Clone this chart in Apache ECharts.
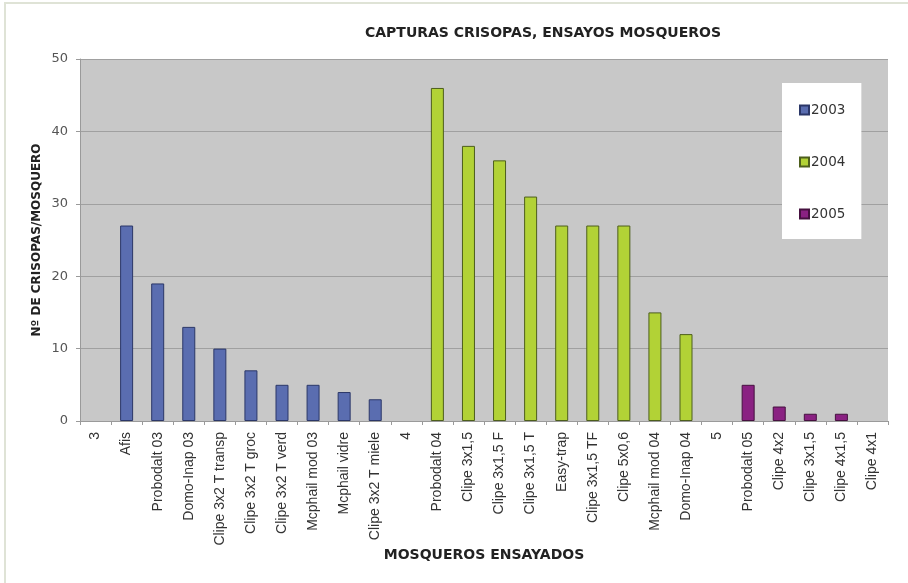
<!DOCTYPE html>
<html>
<head>
<meta charset="utf-8">
<script src="https://cdn.jsdelivr.net/npm/echarts@6/dist/echarts.min.js"></script>
<style>
  html, body { margin: 0; padding: 0; background: #ffffff; }
  #chart { width: 908px; height: 583px; }
</style>
</head>
<body>
<div id="chart"></div>
<script>
// Traps tested per season (spacer categories "3", "4", "5" separate the years)
const categories = [
  '3', 'Afis', 'Probodalt 03', 'Domo-Inap 03', 'Clipe 3x2 T transp', 'Clipe 3x2 T groc',
  'Clipe 3x2 T verd', 'Mcphail mod 03', 'Mcphail vidre', 'Clipe 3x2 T miele',
  '4', 'Probodalt 04', 'Clipe 3x1,5', 'Clipe 3x1,5 F', 'Clipe 3x1,5 T', 'Easy-trap',
  'Clipe 3x1,5 TF', 'Clipe 5x0,6', 'Mcphail mod 04', 'Domo-Inap 04',
  '5', 'Probodalt 05', 'Clipe 4x2', 'Clipe 3x1,5', 'Clipe 4x1,5', 'Clipe 4x1'
];

const captures2003 = [null, 27, 19, 13, 10, 7, 5, 5, 4, 3,
  null, null, null, null, null, null, null, null, null, null,
  null, null, null, null, null, null];
const captures2004 = [null, null, null, null, null, null, null, null, null, null,
  null, 46, 38, 36, 31, 27, 27, 27, 15, 12,
  null, null, null, null, null, null];
const captures2005 = [null, null, null, null, null, null, null, null, null, null,
  null, null, null, null, null, null, null, null, null, null,
  null, 5, 2, 1, 1, 0];

const yTicks = { min: 0, max: 50, interval: 10 };

const chart = echarts.init(document.getElementById('chart'));

const SANS = 'DejaVu Sans';
const ARIAL = 'Liberation Sans';

function barSeries(name, data, fill, edge) {
  return {
    name: name,
    type: 'bar',
    // a zero count leaves no outline on the baseline
    data: data.map(v => (v === 0 ? { value: 0, itemStyle: { borderWidth: 0 } } : v)),
    barWidth: 13,
    barGap: '-100%',
    itemStyle: { color: fill, borderColor: edge, borderWidth: 1 }
  };
}

chart.setOption({
  backgroundColor: '#ffffff',
  animation: false,
  graphic: [{
    type: 'rect',
    shape: { x: 5, y: 3, width: 920, height: 600 },
    style: { fill: 'none', stroke: '#dfe3d6', lineWidth: 2 },
    silent: true
  }],
  title: {
    text: 'CAPTURAS CRISOPAS, ENSAYOS MOSQUEROS',
    left: 538,
    top: 21,
    textAlign: 'center',
    textStyle: { fontFamily: SANS, fontSize: 14, fontWeight: 'bold', color: '#222' }
  },
  legend: {
    orient: 'vertical',
    left: 782,
    top: 83,
    padding: [20, 16, 18, 17],
    itemGap: 38,
    itemWidth: 9,
    itemHeight: 9,
    icon: 'rect',
    backgroundColor: '#ffffff',
    textStyle: { fontFamily: SANS, fontSize: 13.5, color: '#333', padding: [0, 0, 0, -3] },
    data: ['2003', '2004', '2005']
  },
  grid: {
    left: 80, right: 20, top: 59, bottom: 162,
    show: true, backgroundColor: '#c8c8c8', borderWidth: 0
  },
  xAxis: {
    type: 'category',
    data: categories,
    name: 'MOSQUEROS ENSAYADOS',
    nameLocation: 'middle',
    nameGap: 127,
    nameMoveOverlap: false,
    nameTextStyle: { fontFamily: SANS, fontSize: 14, fontWeight: 'bold', color: '#222' },
    axisLine: { lineStyle: { color: '#9a9a9a' } },
    axisTick: { show: true, alignWithLabel: false, length: 4, lineStyle: { color: '#9a9a9a' } },
    axisLabel: {
      rotate: 90, interval: 0, margin: 11,
      fontFamily: ARIAL, fontSize: 14, color: '#333'
    }
  },
  yAxis: {
    type: 'value',
    min: yTicks.min, max: yTicks.max, interval: yTicks.interval,
    name: 'Nº DE CRISOPAS/MOSQUERO',
    nameLocation: 'middle',
    nameGap: 37,
    nameMoveOverlap: false,
    nameTextStyle: { fontFamily: SANS, fontSize: 12, fontWeight: 'bold', color: '#222' },
    axisLine: { show: true, lineStyle: { color: '#9a9a9a' } },
    axisTick: { show: true, length: 4, lineStyle: { color: '#9a9a9a' } },
    axisLabel: { fontFamily: SANS, fontSize: 13, color: '#555', margin: 12 },
    splitLine: { lineStyle: { color: '#a0a0a0', width: 1 } }
  },
  series: [
    barSeries('2003', captures2003, '#5a6db0', '#2b3768'),
    barSeries('2004', captures2004, '#b2d236', '#4d5e1c'),
    barSeries('2005', captures2005, '#8a2182', '#45103f')
  ]
});
</script>
</body>
</html>
